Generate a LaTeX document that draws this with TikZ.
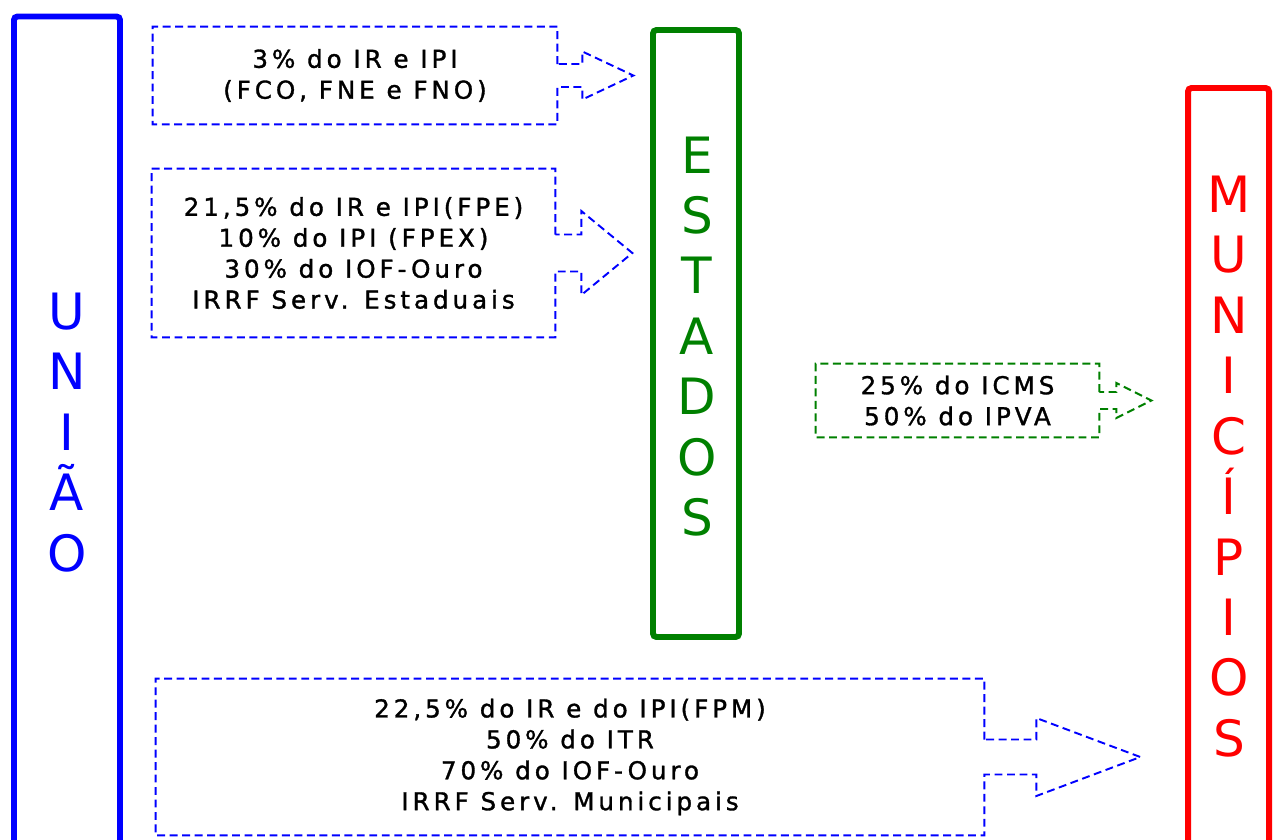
\documentclass[tikz,border=0pt]{standalone}
\usepackage{fontspec}
\setmainfont{DejaVu Sans}
\newfontfamily\sharefont[LetterSpace=16,FakeBold=1.3]{DejaVu Sans}
\usetikzlibrary{calc,positioning}
\definecolor{royal}{RGB}{0,0,255}
\definecolor{forest}{RGB}{0,128,0}
\definecolor{scarlet}{RGB}{255,0,0}
\tikzset{
  bar/.style={draw=#1,line width=3.4pt,rounded corners=2pt},
  bar/.default=royal,
  barlabel/.style={text=#1,align=center,inner sep=0pt,
    font=\fontsize{28.5}{34.4}\selectfont},
  barlabel/.default=royal,
  sharebox/.style={inner sep=0pt,align=center,
    font=\sharefont\fontsize{14}{17.6}\selectfont},
  shareline/.style={draw=#1,line width=1.1pt,dash pattern=on 4.5pt off 2.6pt},
  shareline/.default=royal,
}
\newcommand{\comma}{,}

\begin{document}
\begin{tikzpicture}[x=0.02cm,y=-0.02cm]
    \useasboundingbox (0,0) rectangle (1274,839);
    % the three levels
    \draw[bar=royal] (14,16.5) rectangle (120,860);
    \draw[bar=forest] (653,30) rectangle (739,637);
    \draw[bar=scarlet] (1188,88) rectangle (1269,860);
    \node[barlabel=royal] (uniao) at (67,432.5) {U\\N\\I\\Ã\\O};
    \node[barlabel=forest] (estados) at (697,336.5) {E\\S\\T\\A\\D\\O\\S};
    \node[barlabel=scarlet] (municipios) at (1229,466.5) {M\\U\\N\\I\\C\\Í\\P\\I\\O\\S};
    % transfers
    \foreach \bname/\col/\cx/\cy/\bw/\bh/\sh/\hh/\se/\tp/\txt in {
      fco/royal/355/75.5/404/97/11.5/24/25/76/3\% do IR e IPI\\(FCO\comma{} FNE e FNO),
      fpe/royal/353.5/253/403/168/18.5/42/26/77/21\comma5\% do IR e IPI(FPE)\\10\% do IPI (FPEX)\\30\% do IOF-Ouro\\IRRF Serv. Estaduais,
      icms/forest/957.5/400.5/283/73/8.5/17.5/17/52/25\% do ICMS\\50\% do IPVA,
      fpm/royal/570/757/828/156/17.5/39/52/156/22\comma5\% do IR e do IPI(FPM)\\50\% do ITR\\70\% do IOF-Ouro\\IRRF Serv. Municipais}
    {
      \node[sharebox,minimum width=\bw*0.02cm,minimum height=\bh*0.02cm] (\bname) at (\cx,\cy) {\txt};
      \draw[shareline=\col] ($(\bname.east)+(0,-\sh)$) -- (\bname.north east) -- (\bname.north west)
        -- (\bname.south west) -- (\bname.south east) -- ($(\bname.east)+(0,\sh)$) -- ++(\se,0)
        -- ++(0,\hh-\sh) -- ($(\bname.east)+(\tp,0)$) -- ($(\bname.east)+(\se,-\hh)$)
        -- ++(0,\hh-\sh) -- cycle;
    }
\end{tikzpicture}
\end{document}
